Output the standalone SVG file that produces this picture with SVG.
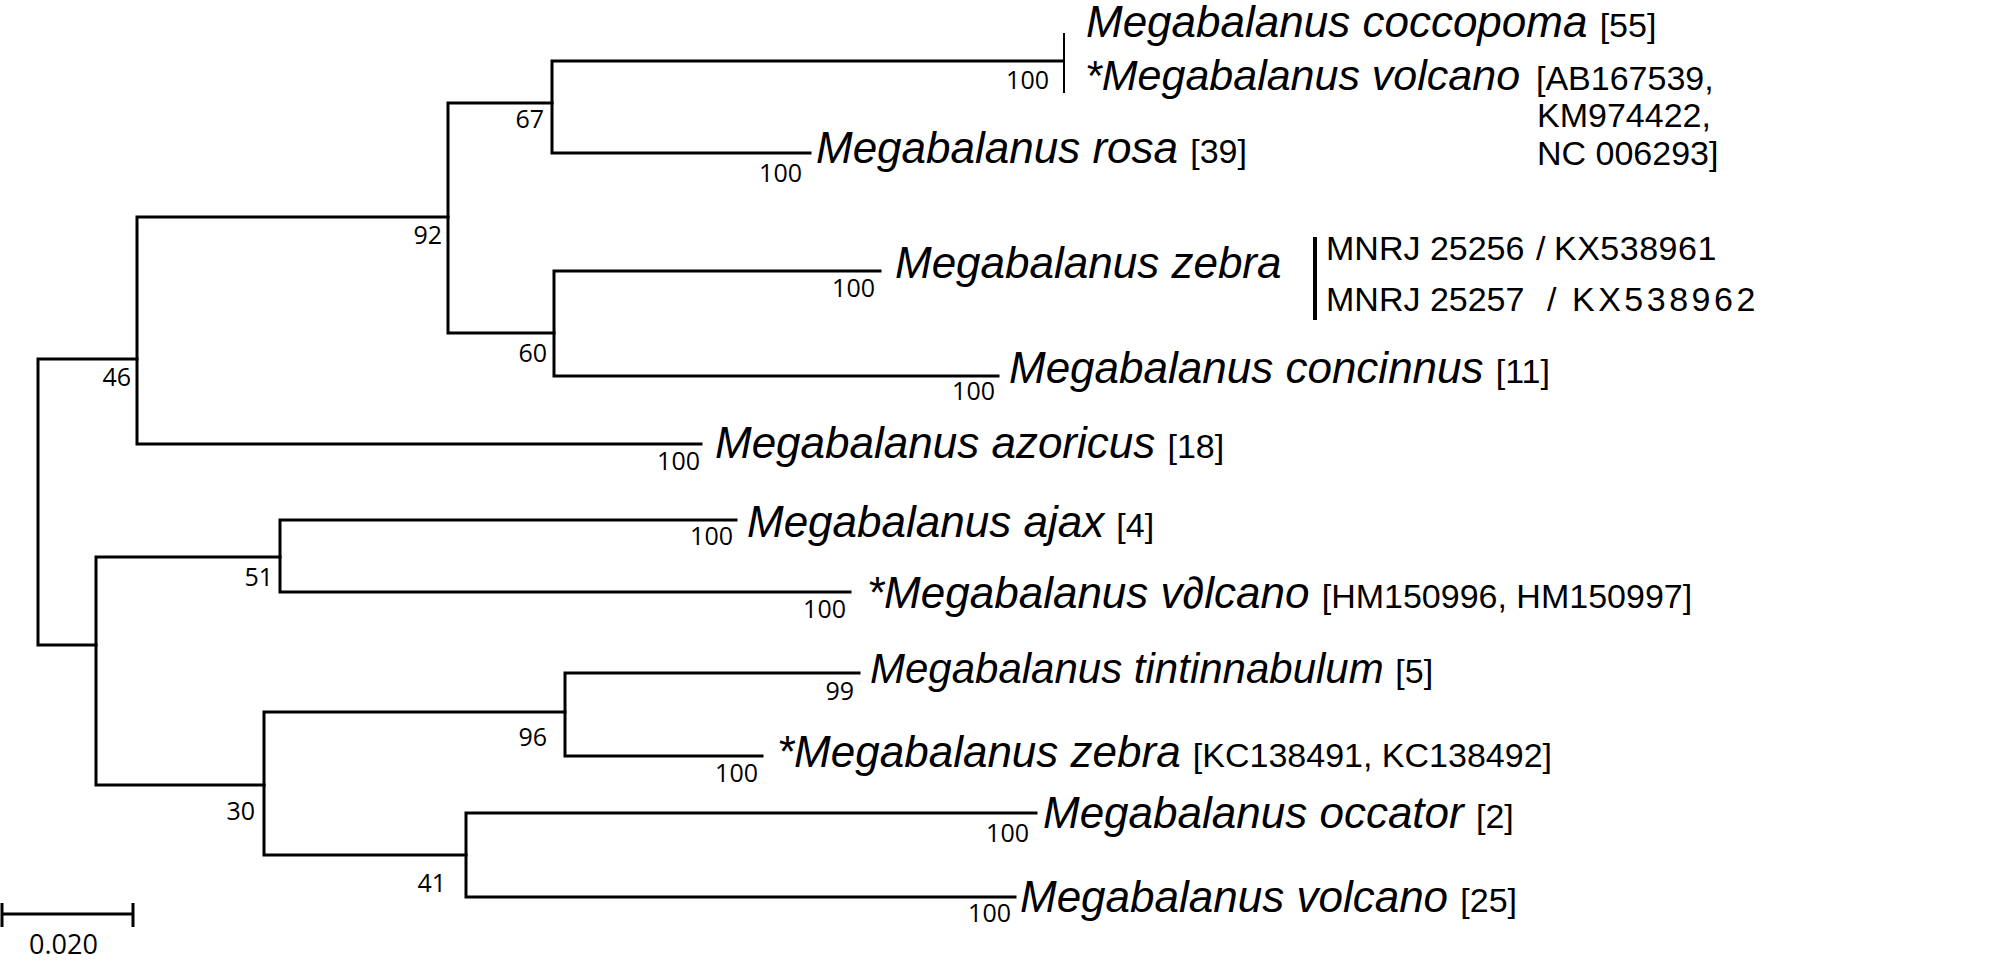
<svg xmlns="http://www.w3.org/2000/svg" width="2008" height="964" viewBox="0 0 2008 964">
<style>
.e{fill:none;stroke:#000;stroke-width:3;stroke-linejoin:miter;stroke-linecap:square}
.sp{font-family:"Liberation Sans",Arial,sans-serif;font-style:italic;font-size:44px;fill:#000}
.br{font-family:"Liberation Sans",Arial,sans-serif;font-style:normal;font-size:34px}
.acc{font-family:"Liberation Sans",Arial,sans-serif;font-size:34px;fill:#000}
.mn{font-family:"Liberation Sans",Arial,sans-serif;font-size:34px;fill:#000}
.bs{font-family:"Open Sans","Noto Sans",sans-serif;font-size:25px;fill:#000;text-anchor:end}
.sc{font-family:"Open Sans","Noto Sans",sans-serif;font-size:27px;fill:#000}
</style>
<rect width="2008" height="964" fill="#fff"/>
<g id="connectors">
<path class="e" d="M137,359 H38 V645 H96"/>
<path class="e" d="M448,217 H137 V444 H701"/>
<path class="e" d="M552,103 H448 V333 H554"/>
<path class="e" d="M1063,61 H552 V153 H810"/>
<path class="e" d="M880,271 H554 V376 H998"/>
<path class="e" d="M280,557 H96 V785 H264"/>
<path class="e" d="M736,520 H280 V592 H850"/>
<path class="e" d="M565,712 H264 V855 H466"/>
<path class="e" d="M859,673 H565 V756 H762"/>
<path class="e" d="M1036,813 H466 V897 H1015"/>
<path d="M1064,33 V93" stroke="#000" stroke-width="2"/>
<path d="M1315,237 V320" stroke="#000" stroke-width="4"/>
</g>
<g id="support">
<text class="bs" x="544" y="128">67</text>
<text class="bs" x="442" y="244">92</text>
<text class="bs" x="547" y="362">60</text>
<text class="bs" x="131" y="386">46</text>
<text class="bs" x="273" y="586">51</text>
<text class="bs" x="255" y="820">30</text>
<text class="bs" x="547" y="746">96</text>
<text class="bs" x="446" y="892">41</text>
<text class="bs" x="1049" y="89">100</text>
<text class="bs" x="802" y="182">100</text>
<text class="bs" x="875" y="297">100</text>
<text class="bs" x="995" y="400">100</text>
<text class="bs" x="700" y="470">100</text>
<text class="bs" x="733" y="545">100</text>
<text class="bs" x="846" y="618">100</text>
<text class="bs" x="854" y="700">99</text>
<text class="bs" x="758" y="782">100</text>
<text class="bs" x="1029" y="842">100</text>
<text class="bs" x="1011" y="922">100</text>
</g>
<g id="n-coccopoma"><text class="sp" x="1086" y="37">Megabalanus coccopoma <tspan class="br">[55]</tspan></text></g>
<g id="n-volcano-ab">
<text class="sp" x="1085" y="90" style="font-size:43px">*Megabalanus volcano</text>
<text class="acc" x="1536" y="90">[AB167539,</text>
<text class="acc" x="1537" y="127">KM974422,</text>
<text class="acc" x="1537" y="165">NC 006293]</text>
</g>
<g id="n-rosa"><text class="sp" x="816" y="163">Megabalanus rosa <tspan class="br">[39]</tspan></text></g>
<g id="n-zebra-mnrj">
<text class="sp" x="895" y="278">Megabalanus zebra</text>
<text class="mn" y="260"><tspan x="1326">MNRJ 25256</tspan><tspan x="1536">/</tspan><tspan x="1554" letter-spacing="0.5">KX538961</tspan></text>
<text class="mn" y="311"><tspan x="1326">MNRJ 25257</tspan><tspan x="1547">/</tspan><tspan x="1572" letter-spacing="3.5">KX538962</tspan></text>
</g>
<g id="n-concinnus"><text class="sp" x="1009" y="383">Megabalanus concinnus <tspan class="br">[11]</tspan></text></g>
<g id="n-azoricus"><text class="sp" x="715" y="458">Megabalanus azoricus <tspan class="br">[18]</tspan></text></g>
<g id="n-ajax"><text class="sp" x="747" y="537">Megabalanus ajax <tspan class="br">[4]</tspan></text></g>
<g id="n-volcano-hm"><text class="sp" x="867" y="608">*Megabalanus v∂lcano <tspan class="br">[HM150996, HM150997]</tspan></text></g>
<g id="n-tintinnabulum">
<text class="sp" x="870" y="683" style="font-size:42px">Megabalanus tintinnabulum <tspan class="br">[5]</tspan></text>
</g>
<g id="n-zebra-kc"><text class="sp" x="777" y="767">*Megabalanus zebra <tspan class="br">[KC138491, KC138492]</tspan></text></g>
<g id="n-occator"><text class="sp" x="1043" y="828">Megabalanus occator <tspan class="br">[2]</tspan></text></g>
<g id="n-volcano"><text class="sp" x="1020" y="912">Megabalanus volcano <tspan class="br">[25]</tspan></text></g>
<g id="scale">
<path d="M2,914 H133 M2,903 V927 M133,903 V927" stroke="#000" stroke-width="3" fill="none"/>
<text class="sc" x="29" y="954">0.020</text>
</g>
</svg>
